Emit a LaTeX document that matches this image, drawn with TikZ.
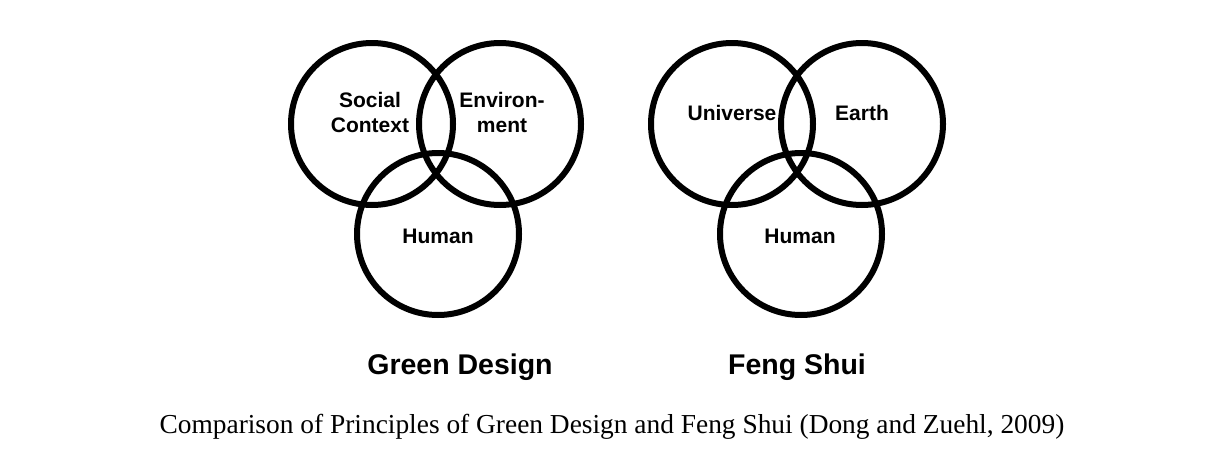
\documentclass[tikz,border=0pt]{standalone}
\usepackage{fontspec}
\setmainfont{Liberation Serif}
\setsansfont{Liberation Sans}
\usepackage{tikz}

\begin{document}
\begin{tikzpicture}[
  x=1pt, y=-1pt,
  ring/.style={draw, circle, line width=6pt, minimum size=162pt, inner sep=0pt},
  lab/.style={font=\sffamily\bfseries\fontsize{21}{25}\selectfont, align=center, anchor=base, inner sep=0pt},
  title/.style={font=\sffamily\bfseries\fontsize{28.5}{34}\selectfont, anchor=base, inner sep=0pt},
  caption/.style={font=\rmfamily\fontsize{27.4}{30}\selectfont, anchor=base, inner sep=0pt}
]
\useasboundingbox (0,0) rectangle (1218,466);

% --- Green design circles ----------------------------------------------------
\node[ring] (social) at (372,124) {};
\node[ring] (envir) at (500,124) {};
\node[ring] (human1) at (438,234) {};

% --- Feng shui circles -------------------------------------------------------
\node[ring] (univ) at (732,124) {};
\node[ring] (earth) at (862,124) {};
\node[ring] (human2) at (801,234) {};

% --- Labels ------------------------------------------------------------------
\node[lab] (lsocial) at (370,132) {Social\\Context};
\node[lab] (lenvir) at (502,132) {Environ-\\ment};
\node[lab] (lhuman1) at (438,243) {Human};
\node[lab] (luniv) at (732,120) {Universe};
\node[lab] (learth) at (862,120) {Earth};
\node[lab] (lhuman2) at (800,243) {Human};

% --- Titles and caption ------------------------------------------------------
\node[title] (tgreen) at (460,374) {Green Design};
\node[title] (tfeng) at (797,374) {Feng Shui};
\node[caption] (cap) at (612,433) {Comparison of Principles of Green Design and Feng Shui (Dong and Zuehl, 2009)};

\end{tikzpicture}
\end{document}
